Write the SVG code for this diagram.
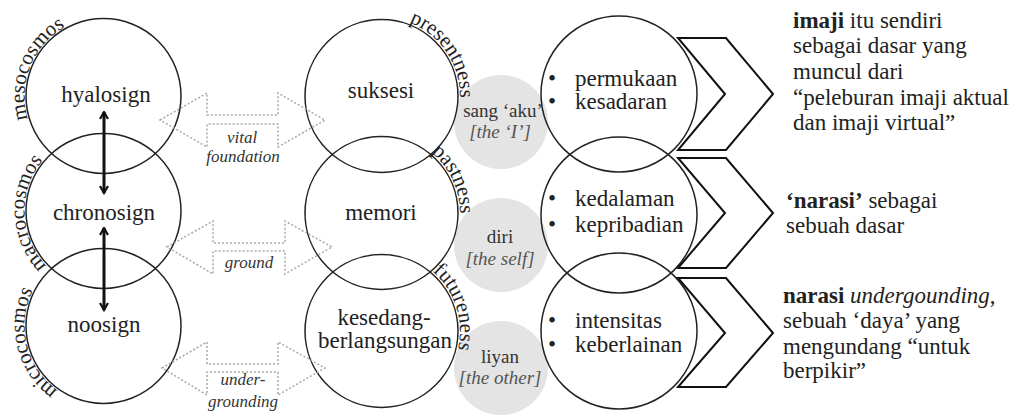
<svg xmlns="http://www.w3.org/2000/svg" width="1026" height="416" viewBox="0 0 1026 416" font-family="'Liberation Serif', 'Times New Roman', Times, 'DejaVu Serif', serif">
  <style>
    text, textPath, tspan { font-family: 'Liberation Serif', 'Times New Roman', Times, 'DejaVu Serif', serif; }
    text { fill: #222; }
    .ring { fill: none; stroke: #222; stroke-width: 1.5; }
    .shade { fill: #e4e4e4; stroke: none; }
    .lbl { font-size: 23px; }
    .mid { text-anchor: middle; }
    .arc { font-size: 21px; }
    .small { font-size: 19px; fill: #333; }
    .em { font-style: italic; }
    .dim { fill: #555; }
    .note { font-size: 17px; font-style: italic; fill: #333; text-anchor: middle; }
    .dotted { fill: none; stroke: #a8a8a8; stroke-width: 1.5; stroke-dasharray: 2 2; }
    .chev { fill: none; stroke: #111; stroke-width: 2; stroke-linejoin: miter; }
    .link { stroke: #111; stroke-width: 3; fill: none; }
    .side { font-size: 23px; }
    .b { font-weight: bold; }
  </style>
  <defs>
    <marker id="head" viewBox="0 0 10 10" refX="8.5" refY="5" markerWidth="10" markerHeight="10" markerUnits="userSpaceOnUse" orient="auto-start-reverse">
      <path d="M1.5,1 L8.5,5 L1.5,9" fill="none" stroke="#111" stroke-width="2.2" stroke-linejoin="miter"/>
    </marker>
    <!-- arcs that carry the curved labels -->
    <path id="arcMeso" d="M41.25,144.64 A79,79 0 0 1 92.5,17.77"/>
    <path id="arcMacro" d="M66.41,280.75 A79,79 0 0 1 61.64,144.01"/>
    <path id="arcMicro" d="M81.73,401.94 A79,79 0 0 1 48.62,269.18"/>
    <path id="arcPresent" d="M376.02,17.69 A78.5,78.5 0 0 1 452.06,130.41"/>
    <path id="arcPast" d="M388.34,134.80 A78.5,78.5 0 0 1 445.81,258.03"/>
    <path id="arcFuture" d="M397.82,254.22 A78.5,78.5 0 0 1 439.84,383.53"/>
  </defs>

  <!-- grey subject discs -->
  <g id="aku">
    <circle class="shade" cx="501" cy="122" r="47"/>
    <text class="small mid" x="503" y="117">sang ‘aku’</text>
    <text class="small mid em dim" x="500" y="138">[the ‘I’]</text>
  </g>
  <g id="diri">
    <circle class="shade" cx="501" cy="245" r="47"/>
    <text class="small mid" x="500" y="243">diri</text>
    <text class="small mid em dim" x="500" y="265">[the self]</text>
  </g>
  <g id="liyan">
    <circle class="shade" cx="501" cy="368" r="47"/>
    <text class="small mid" x="500" y="363">liyan</text>
    <text class="small mid em dim" x="500" y="384">[the other]</text>
  </g>

  <!-- left column: signs -->
  <g id="hyalosign">
    <circle class="ring" cx="103.5" cy="96" r="77.5"/>
    <text class="lbl mid" x="106" y="102">hyalosign</text>
    <text class="arc"><textPath href="#arcMeso" startOffset="50%" text-anchor="middle">mesocosmos</textPath></text>
  </g>
  <g id="chronosign">
    <circle class="ring" cx="103.5" cy="211" r="77.5"/>
    <text class="lbl mid" x="104" y="220">chronosign</text>
    <text class="arc"><textPath href="#arcMacro" startOffset="50%" text-anchor="middle">macrocosmos</textPath></text>
  </g>
  <g id="noosign">
    <circle class="ring" cx="103.5" cy="326" r="77.5"/>
    <text class="lbl mid" x="104" y="332">noosign</text>
    <text class="arc"><textPath href="#arcMicro" startOffset="50%" text-anchor="middle">microcosmos</textPath></text>
  </g>

  <!-- middle column: time -->
  <g id="suksesi">
    <circle class="ring" cx="381.5" cy="96" r="76.5"/>
    <text class="lbl mid" x="381" y="98">suksesi</text>
    <text class="arc"><textPath href="#arcPresent" startOffset="50%" text-anchor="middle">presentness</textPath></text>
  </g>
  <g id="memori">
    <circle class="ring" cx="381.5" cy="213" r="76.5"/>
    <text class="lbl mid" x="381" y="220">memori</text>
    <text class="arc"><textPath href="#arcPast" startOffset="50%" text-anchor="middle">pastness</textPath></text>
  </g>
  <g id="kesedang">
    <circle class="ring" cx="381.5" cy="331" r="76.5"/>
    <text class="lbl mid" x="384" y="325">kesedang-</text>
    <text class="lbl mid" x="385" y="348">berlangsungan</text>
    <text class="arc"><textPath href="#arcFuture" startOffset="50%" text-anchor="middle">futureness</textPath></text>
  </g>

  <!-- right column: qualities -->
  <g id="permukaan">
    <circle class="ring" cx="619" cy="94" r="78"/>
    <text class="lbl" x="548" y="86">•</text>
    <text class="lbl" x="575" y="86">permukaan</text>
    <text class="lbl" x="548" y="109">•</text>
    <text class="lbl" x="575" y="109">kesadaran</text>
  </g>
  <g id="kedalaman">
    <circle class="ring" cx="619" cy="215" r="78"/>
    <text class="lbl" x="548" y="206">•</text>
    <text class="lbl" x="575" y="206">kedalaman</text>
    <text class="lbl" x="548" y="232">•</text>
    <text class="lbl" x="575" y="232">kepribadian</text>
  </g>
  <g id="intensitas">
    <circle class="ring" cx="619" cy="331" r="78"/>
    <text class="lbl" x="548" y="328">•</text>
    <text class="lbl" x="575" y="328">intensitas</text>
    <text class="lbl" x="548" y="352">•</text>
    <text class="lbl" x="575" y="352">keberlainan</text>
  </g>

  <!-- chevrons and their statements -->
  <g id="imaji">
    <polygon class="chev" points="678,38 726,38 773,94 726,150 678,150 725,94"/>
    <text class="side" x="793" y="28"><tspan class="b">imaji</tspan> itu sendiri</text>
    <text class="side" x="793" y="53">sebagai dasar yang</text>
    <text class="side" x="793" y="79">muncul dari</text>
    <text class="side" x="793" y="105">“peleburan imaji aktual</text>
    <text class="side" x="793" y="130">dan imaji virtual”</text>
  </g>
  <g id="narasi">
    <polygon class="chev" points="678,158 726,158 773,213 726,268 678,268 725,213"/>
    <text class="side" x="786" y="208"><tspan class="b">‘narasi’</tspan> sebagai</text>
    <text class="side" x="786" y="233">sebuah dasar</text>
  </g>
  <g id="undergrounding">
    <polygon class="chev" points="678,278 726,278 773,333 726,387 678,387 725,333"/>
    <text class="side" x="783" y="303"><tspan class="b">narasi</tspan> <tspan class="em">undergounding</tspan>,</text>
    <text class="side" x="783" y="328">sebuah ‘daya’ yang</text>
    <text class="side" x="783" y="354">mengundang “untuk</text>
    <text class="side" x="783" y="378">berpikir”</text>
  </g>

  <!-- connectors -->
  <g id="connectors">
    <line class="link" x1="104" y1="112" x2="104" y2="193" marker-start="url(#head)" marker-end="url(#head)"/>
    <line class="link" x1="104" y1="228" x2="104" y2="310" marker-start="url(#head)" marker-end="url(#head)"/>

    <polygon class="dotted" points="160,120 207,93 207,115 278,115 278,93 325,120 278,147 278,124 207,124 207,147"/>
    <text class="note" x="242" y="143">vital</text>
    <text class="note" x="243" y="162">foundation</text>

    <polygon class="dotted" points="167,247 213,221 213,243 285,243 285,221 332,247 285,274 285,251 213,251 213,274"/>
    <text class="note" x="249" y="268">ground</text>

    <polygon class="dotted" points="162,368 207,342 207,364 278,364 278,342 325,368 278,395 278,372 207,372 207,395"/>
    <text class="note" x="243" y="385">under-</text>
    <text class="note" x="243" y="407">grounding</text>
  </g>
</svg>
